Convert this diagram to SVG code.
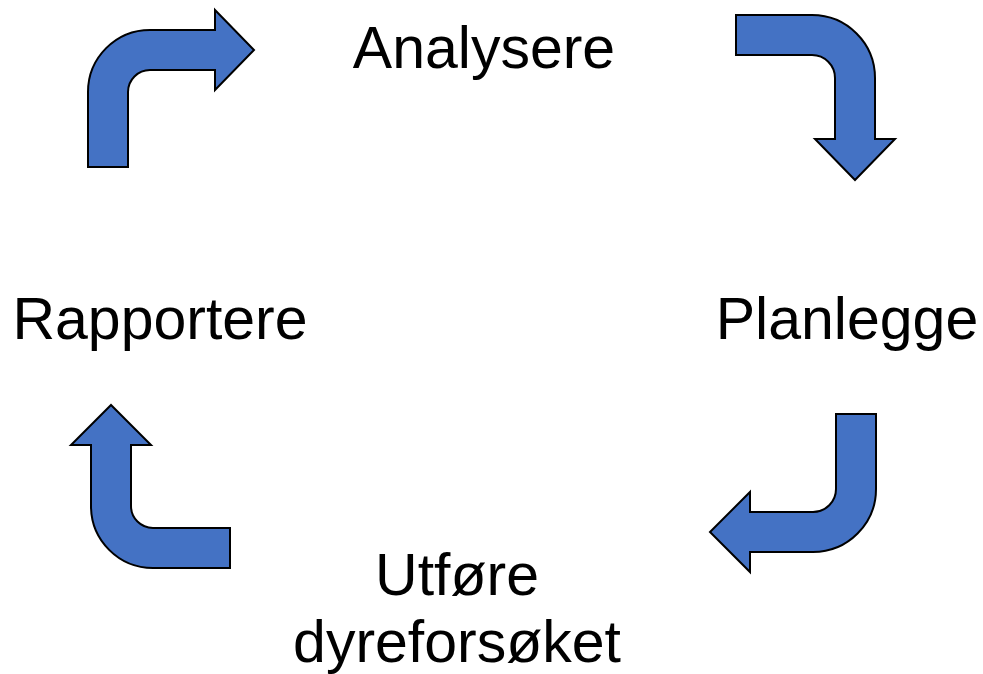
<svg xmlns="http://www.w3.org/2000/svg" width="983" height="674" viewBox="0 0 983 674">
<style>
.arrow{fill:#4472C4;stroke:#000;stroke-width:2;stroke-linejoin:miter}
.lbl{font-family:"Liberation Sans",Arial,sans-serif;font-size:59px;fill:#000;text-anchor:middle}
</style>
<rect width="983" height="674" fill="#fff"/>
<g id="connectors">
<path id="arrow-top-left" class="arrow" d="M88,167 L88,92 A62,62 0 0 1 150,30 L215,30 L215,10 L254,50 L215,90 L215,70 L150,70 A22,22 0 0 0 128,92 L128,167 Z"/>
<path id="arrow-top-right" class="arrow" d="M736,15 L812,15 A63,63 0 0 1 875,78 L875,139 L895,139 L855,180 L815,139 L835,139 L835,78 A23,23 0 0 0 812,55 L736,55 Z"/>
<path id="arrow-bottom-right" class="arrow" d="M836,414 L876,414 L876,489 A63,63 0 0 1 813,552 L750,552 L750,572 L710,532 L750,492 L750,512 L813,512 A23,23 0 0 0 836,489 Z"/>
<path id="arrow-bottom-left" class="arrow" d="M230,528 L230,568 L153,568 A62,62 0 0 1 91,506 L91,445 L71,445 L111,405 L151,445 L131,445 L131,506 A22,22 0 0 0 153,528 Z"/>
</g>
<g id="node-analysere"><text class="lbl" x="484" y="68">Analysere</text></g>
<g id="node-planlegge"><text class="lbl" x="847" y="339">Planlegge</text></g>
<g id="node-utfore"><text class="lbl" x="457" y="595">Utføre</text><text class="lbl" x="457" y="662">dyreforsøket</text></g>
<g id="node-rapportere"><text class="lbl" x="160" y="339">Rapportere</text></g>
</svg>
